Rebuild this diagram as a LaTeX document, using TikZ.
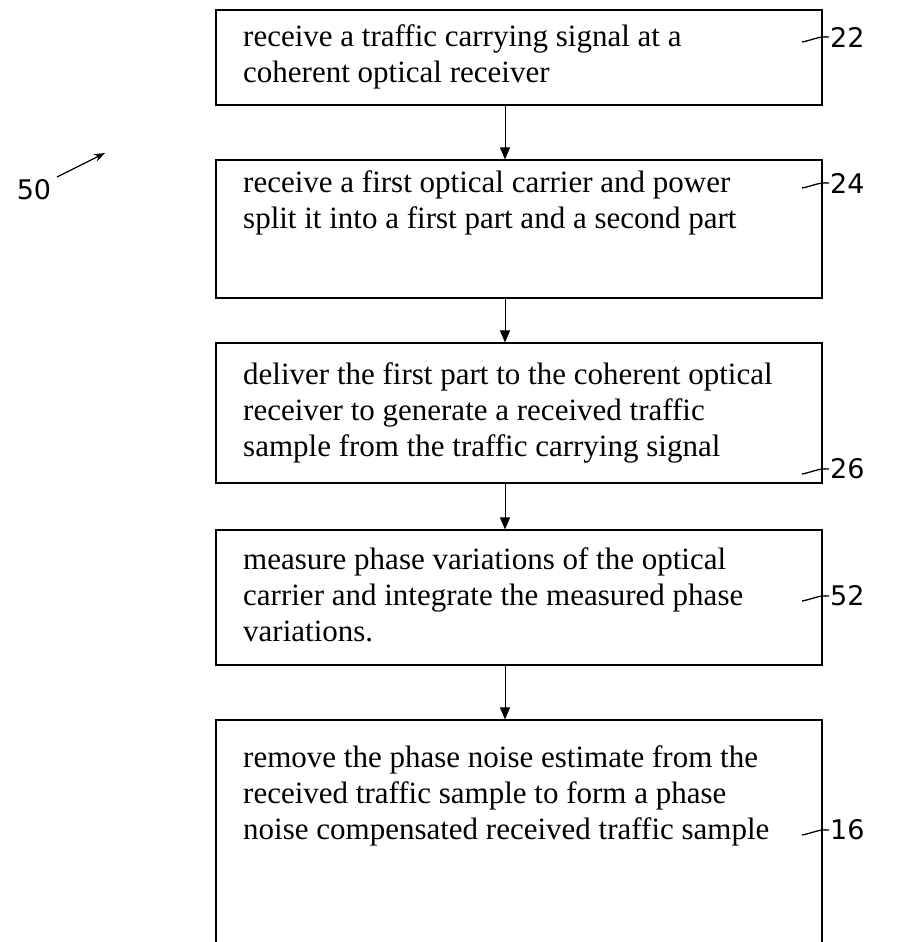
\documentclass[tikz,border=0pt]{standalone}
\usepackage{fontspec}
\setmainfont{Liberation Serif}
\newfontfamily\handfont{DejaVu Sans}
\usetikzlibrary{arrows.meta,calc}
\begin{document}
\begin{tikzpicture}[x=1pt,y=-1pt,
  box/.style={draw=black,line width=1.1pt,minimum width=606pt,inner sep=0pt},
  txt/.style={anchor=north west,align=left,inner sep=0pt,font=\fontsize{31}{36}\selectfont},
  arr/.style={line width=1pt,-{Triangle[length=12pt,width=10pt]}},
  lbl/.style={font=\handfont\fontsize{27}{27}\selectfont,inner sep=1pt,anchor=west},
  lead/.style={line width=1.3pt}]
\useasboundingbox (0,0) rectangle (898,942);
% boxes
\node[box,minimum height=95pt] (b1) at (519,57.5) {};
\node[box,minimum height=138pt] (b2) at (519,229) {};
\node[box,minimum height=140pt] (b3) at (519,413) {};
\node[box,minimum height=135pt] (b4) at (519,597.5) {};
\node[box,minimum height=232pt] (b5) at (519,836) {};
% texts
\node[txt] (t1) at (243,24) {receive a traffic carrying signal at a\\coherent optical receiver};
\node[txt] (t2) at (243,170) {receive a first optical carrier and power\\split it into a first part and a second part};
\node[txt] (t3) at (243,362) {deliver the first part to the coherent optical\\receiver to generate a received traffic\\sample from the traffic carrying signal};
\node[txt] (t4) at (243,547) {measure phase variations of the optical\\carrier and integrate the measured phase\\variations.};
\node[txt] (t5) at (243,745) {remove the phase noise estimate from the\\received traffic sample to form a phase\\noise compensated received traffic sample};
% arrows
\coordinate (ax) at (505,0);
\draw[arr] (b1.south -| ax) -- (b2.north -| ax);
\draw[arr] (b2.south -| ax) -- (b3.north -| ax);
\draw[arr] (b3.south -| ax) -- (b4.north -| ax);
\draw[arr] (b4.south -| ax) -- (b5.north -| ax);
% reference labels
\node[lbl] (l22) at (829,37) {22};
\node[lbl] (l24) at (829,183) {24};
\node[lbl] (l26) at (829,469) {26};
\node[lbl] (l52) at (829,596) {52};
\node[lbl] (l16) at (829,830) {16};
\foreach \l in {l22,l24,l26,l52,l16}{
  \draw[lead] (\l.west) to[out=175,in=10] ++(-27,5);
}
\node[lbl,anchor=center] (l50) at (34,190) {50};
\coordinate (p50) at (105,153);
\draw[line width=1.2pt,-{Stealth[length=11pt,width=8pt]}] (57,177) -- (p50);
\end{tikzpicture}
\end{document}
